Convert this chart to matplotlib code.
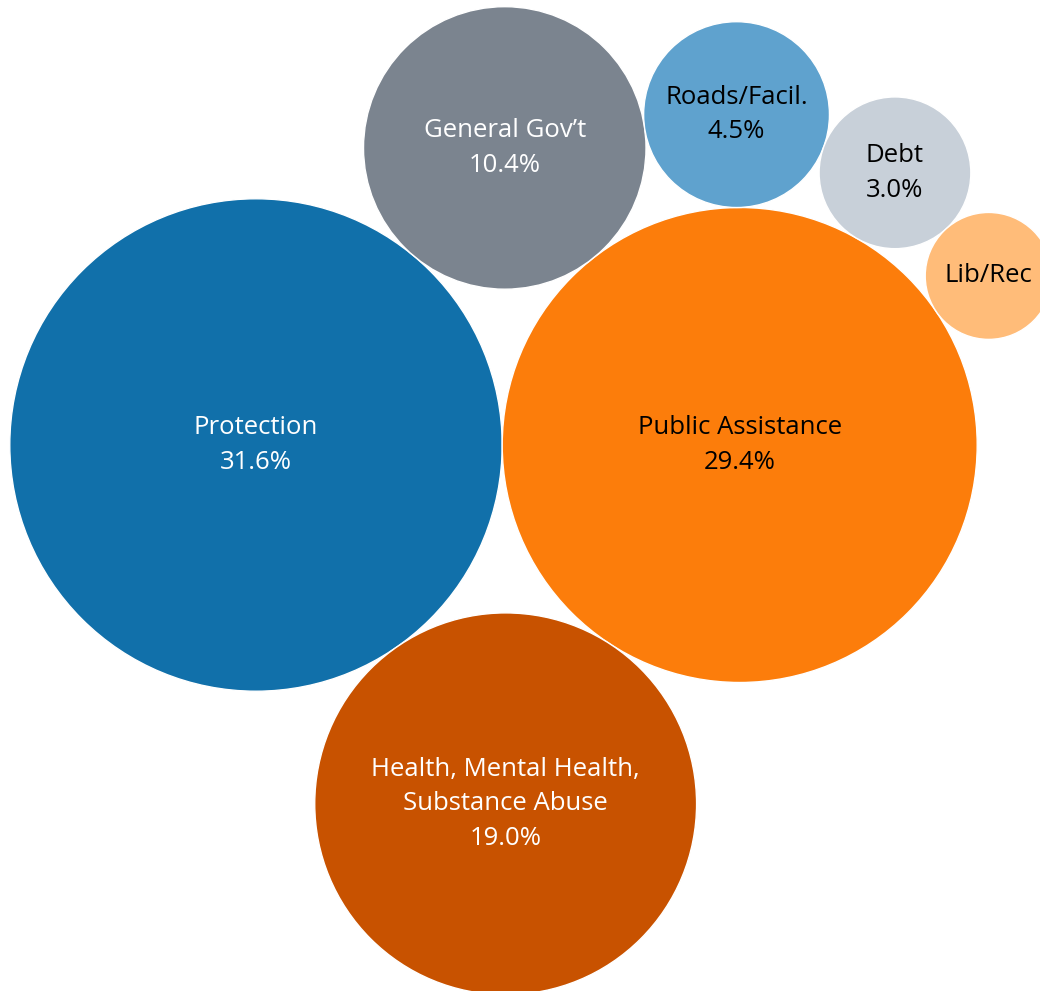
import numpy as np
import matplotlib.pyplot as plt
from matplotlib.patches import Circle

# 지출 항목별 비율 (%)
names = ['Protection', 'Public Assistance', 'Health, Mental Health,\nSubstance Abuse',
         "General Gov\u2019t", 'Roads/Facil.', 'Debt', 'Lib/Rec']
values = [31.6, 29.4, 19.0, 10.4, 4.5, 3.0, 2.1]
colors = ['#1170aa', '#fc7d0b', '#c85200', '#7b848f', '#5fa2ce', '#c8d0d9', '#ffbc79']
text_colors = ['white', 'black', 'white', 'white', 'black', 'black', 'black']

# 버블 배치 규칙: (붙는 원 a, 붙는 원 b, 방향)
layout = [None, None, (0, 1, -1), (0, 1, 1), (3, 1, 1), (4, 1, 1), (5, 1, 1)]

scale = 43.8  # 픽셀 / sqrt(%)
radii = [scale * np.sqrt(v) for v in values]


def tangent(pa, ra, pb, rb, r, side):
    # 두 원에 동시에 외접하는 원의 중심
    pa, pb = np.array(pa), np.array(pb)
    da, db = ra + r, rb + r
    d = np.linalg.norm(pb - pa)
    u = (pb - pa) / d
    perp = np.array([-u[1], u[0]])
    x = (da ** 2 - db ** 2 + d ** 2) / (2 * d)
    h = np.sqrt(max(da ** 2 - x ** 2, 0))
    return pa + x * u + side * h * perp


centers = [np.array([0.0, 0.0]), np.array([radii[0] + radii[1], 0.0])]
for i in range(2, len(values)):
    a, b, side = layout[i]
    centers.append(tangent(centers[a], radii[a], centers[b], radii[b], radii[i], side))

fig = plt.figure(figsize=(10.4, 9.91), dpi=100)
ax = fig.add_axes([0, 0, 1, 1])

for i in range(len(values)):
    ax.add_patch(Circle(centers[i], radii[i], facecolor=colors[i],
                        edgecolor='white', linewidth=1))
    if radii[i] > 70:
        label = f'{names[i]}\n{values[i]:.1f}%'
    else:
        label = names[i]
    ax.text(centers[i][0], centers[i][1], label, ha='center', va='center',
            color=text_colors[i], fontsize=18.5, family='Open Sans',
            linespacing=1.5, multialignment='center')

# Protection 중심이 (256, 445) 픽셀에 오도록
ax.set_xlim(-256, 1040 - 256)
ax.set_ylim(-(991 - 445), 445)
ax.axis('off')

fig.savefig('out.png', dpi=100, facecolor='white')
